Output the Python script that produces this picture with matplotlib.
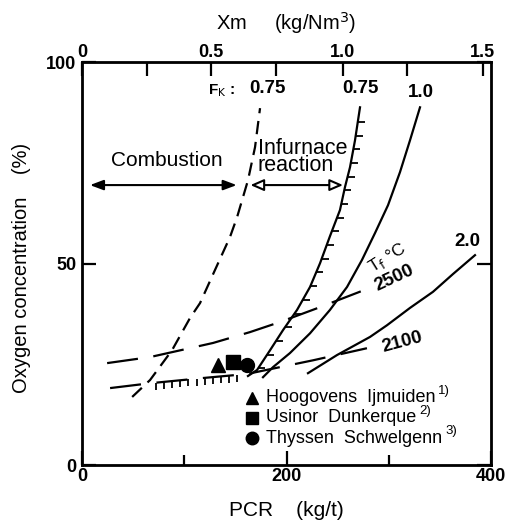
import numpy as np
import matplotlib
matplotlib.use("Agg")
import matplotlib.pyplot as plt
from matplotlib.path import Path

plt.rcParams['font.family'] = ['Liberation Sans', 'DejaVu Sans']

# Fk = 0.75, combustion limit (dashed)
comb_pcr = [49, 66.5, 88, 105.6, 115.4, 130, 144.7, 151.6, 162.3, 169.2, 174.1]
comb_o2 = [16.9, 21.1, 28.5, 36.5, 40.2, 48.4, 56.6, 61.5, 70.7, 78.9, 88.6]

# Fk = 0.75, infurnace reaction limit (solid, hatched)
inf_pcr = [162.3, 171.2, 183.9, 196.6, 210.3, 223, 232.8, 242.5, 252.3, 257.2, 262.1, 267, 271.9]
inf_o2 = [22.1, 23.6, 28.5, 33.5, 38.5, 44.2, 50.1, 56.8, 63.3, 69.0, 73.9, 80.6, 88.8]

# Fk = 1.0
fk10_pcr = [177, 186.8, 203.4, 223, 242.5, 259.2, 273.8, 286.6, 299.3, 311, 320.8, 330.6]
fk10_o2 = [21.8, 24.3, 27.8, 32.7, 38.5, 44.2, 50.9, 57.6, 64.5, 72.7, 80.6, 88.8]

# Fk = 2.0
fk20_pcr = [221, 249.4, 281.7, 298.3, 320.8, 343.3, 362.8, 384.4]
fk20_o2 = [22.8, 27.3, 31.8, 34.7, 39.0, 43.0, 47.4, 52.1]

# Tf = 2500 C
t2500_pcr = [24.5, 66.5, 128.1, 164.3, 193.6, 230.8, 278.7]
t2500_o2 = [25.3, 26.8, 30.3, 33.0, 35.5, 39.0, 43.7]

# Tf = 2100 C
t2100_pcr = [27.4, 66.5, 118.3, 161.4, 193.6, 226, 278.7]
t2100_o2 = [19.1, 20.3, 21.6, 22.6, 24.3, 26.0, 29.0]

# operating points
plants = ["Hoogovens  Ijmuiden", "Usinor  Dunkerque", "Thyssen  Schwelgenn"]
plant_refs = ["1)", "2)", "3)"]
plant_marker = ["^", "s", "o"]
plant_pcr = [133, 148, 161]
plant_o2 = [24.8, 25.5, 24.8]

# top axis (Xm) ticks, at PCR positions
xm_labels = ["0", "0.5", "1.0", "1.5"]
xm_major = [0, 126, 255, 392]
xm_minor = [64, 190, 318]

fig = plt.figure(figsize=(5.13, 5.30), dpi=100)
ax = fig.add_axes([0.160, 0.1226, 0.797, 0.760])
ax.set_xlim(0, 400)
ax.set_ylim(0, 100)

lw = 1.6
ax.plot(comb_pcr, comb_o2, color='black', lw=lw, dashes=(6, 3.5))
ax.plot(inf_pcr, inf_o2, color='black', lw=lw)
ax.plot(fk10_pcr, fk10_o2, color='black', lw=lw)
ax.plot(fk20_pcr, fk20_o2, color='black', lw=lw)
ax.plot(t2500_pcr, t2500_o2, color='black', lw=lw, dashes=(14, 7))
ax.plot(t2100_pcr, t2100_o2, color='black', lw=lw, dashes=(14, 7))

# hatches on feasible-region boundary
tick_right = Path([(0, 0), (1, 0)])
tick_down = Path([(0, 0), (0, -1)])
h_o2 = np.arange(24, 88, 3.4)
h_pcr = np.interp(h_o2, inf_o2, inf_pcr)
ax.plot(h_pcr, h_o2, ls='none', marker=tick_right, ms=10, mec='black', mew=1.3)
b_pcr = np.arange(72, 158, 8)
b_o2 = np.interp(b_pcr, t2100_pcr, t2100_o2)
ax.plot(b_pcr, b_o2, ls='none', marker=tick_down, ms=10, mec='black', mew=1.3)

for m, x, y in zip(plant_marker, plant_pcr, plant_o2):
    ax.plot(x, y, marker=m, color='black', ms=10, ls='none')

# legend made by hand
for i, (m, name, ref) in enumerate(zip(plant_marker, plants, plant_refs)):
    yy = 0.167 - i * 0.05
    ax.plot(0.415, yy, marker=m, color='black', ms=9, transform=ax.transAxes, clip_on=False)
    t = ax.text(0.45, yy, name, transform=ax.transAxes, fontsize=13, va='center', ha='left')
    ax.annotate(ref, xy=(1.0, 0.92), xycoords=t, xytext=(2, 0), textcoords='offset points',
                fontsize=9.5, ha='left', va='center')

# region arrows
ax.annotate("", xy=(154, 69.5), xytext=(5, 69.5),
            arrowprops=dict(arrowstyle='<|-|>,head_width=0.3,head_length=0.8', color='black', lw=1.5))
ax.text(83, 75.5, "Combustion", fontsize=15, ha='center', va='center')
ax.annotate("", xy=(258, 69.5), xytext=(162, 69.5),
            arrowprops=dict(arrowstyle='<|-|>,head_width=0.35,head_length=0.8', fc='white', ec='black', lw=1.5))
ax.text(172, 76.5, "Infurnace\nreaction", fontsize=15.5, ha='left', va='center', linespacing=0.78)

# curve labels
ax.text(136, 93, "F$_{\\rm K}$ :", fontsize=11, fontweight='bold', ha='center', va='center')
ax.text(181, 93.5, "0.75", fontsize=13.5, fontweight='bold', ha='center', va='center')
ax.text(272, 93.5, "0.75", fontsize=13.5, fontweight='bold', ha='center', va='center')
ax.text(331, 92.5, "1.0", fontsize=13.5, fontweight='bold', ha='center', va='center')
ax.text(377, 55.5, "2.0", fontsize=13.5, fontweight='bold', ha='center', va='center')
ax.text(299, 51.5, "T$_{\\rm f}$ °C", fontsize=12.5, ha='center', va='center', rotation=32)
ax.text(305, 46.5, "2500", fontsize=13.5, fontweight='bold', ha='center', va='center', rotation=25)
ax.text(313, 30.5, "2100", fontsize=13.5, fontweight='bold', ha='center', va='center', rotation=15)

# axes styling
for s in ax.spines.values():
    s.set_linewidth(2.0)
ax.set_xticks([0, 200, 400])
ax.set_xticklabels(["0", "200", "400"])
ax.set_xticks([100, 300], minor=True)
ax.set_yticks([0, 50, 100])
ax.set_yticklabels(["0", "50", "100"])
ax.tick_params(which='both', direction='in', width=1.6, labelsize=13, pad=2)
ax.tick_params(axis='y', pad=4)
ax.tick_params(which='major', length=10)
ax.tick_params(which='minor', length=7)
ax.tick_params(axis='y', right=True, length=10)
for lab in ax.get_xticklabels() + ax.get_yticklabels():
    lab.set_fontweight('bold')
ax.set_xlabel("PCR    (kg/t)", fontsize=15, labelpad=12)
ax.set_ylabel("Oxygen concentration    (%)", fontsize=14.5)
ax.yaxis.set_label_coords(-0.125, 0.49)

top = ax.twiny()
top.set_xlim(0, 400)
top.set_xticks(xm_major)
top.set_xticklabels(xm_labels, fontweight='bold')
top.set_xticks(xm_minor, minor=True)
top.tick_params(which='both', direction='in', width=1.6, labelsize=13, pad=1, length=10)
top.set_xlabel("Xm     (kg/Nm$^3$)", fontsize=14.5, labelpad=10)

fig.savefig("out.png", dpi=100)
